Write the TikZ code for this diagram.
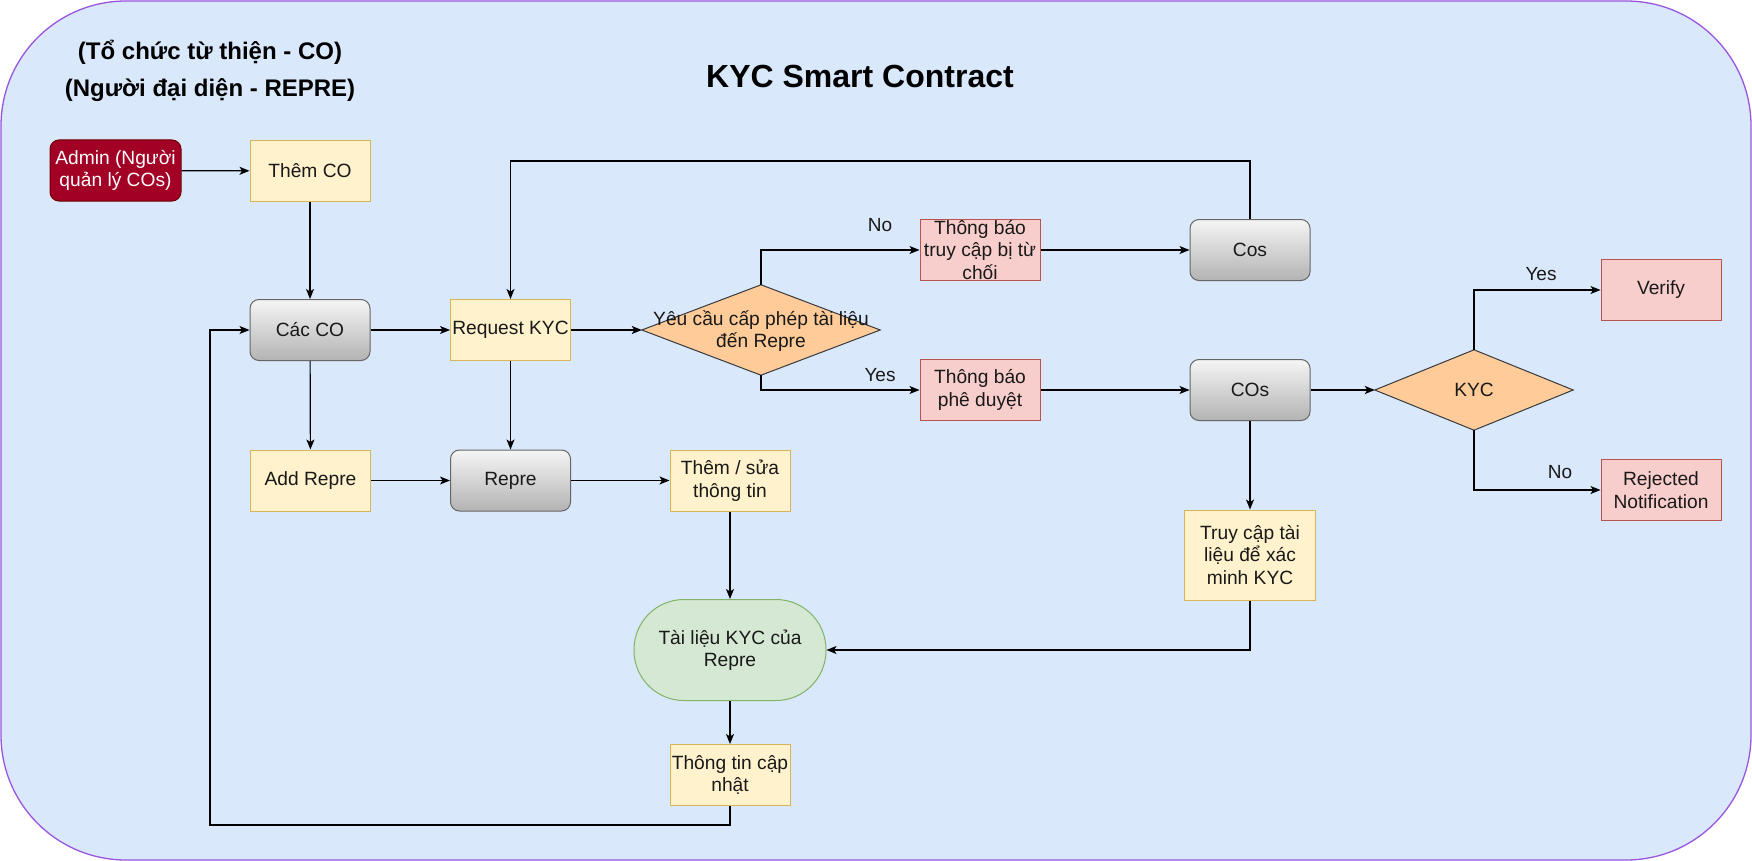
\documentclass[tikz,border=0pt]{standalone}
\usepackage{fontspec}
\setmainfont{Liberation Sans}
\usetikzlibrary{arrows.meta}
\definecolor{bgfill}{HTML}{DAE8FC}
\definecolor{bgdraw}{HTML}{9955DD}
\definecolor{yfill}{HTML}{FFF2CC}
\definecolor{ydraw}{HTML}{D6B656}
\definecolor{rfill}{HTML}{F8CECC}
\definecolor{rdraw}{HTML}{B85450}
\definecolor{afill}{HTML}{A20025}
\definecolor{adraw}{HTML}{6F0000}
\definecolor{gtop}{HTML}{F5F5F5}
\definecolor{gbot}{HTML}{B3B3B3}
\definecolor{gdraw}{HTML}{666666}
\definecolor{ofill}{HTML}{FFCC99}
\definecolor{odraw}{HTML}{36393D}
\definecolor{grfill}{HTML}{D5E8D4}
\definecolor{grdraw}{HTML}{82B366}
\tikzset{
  base/.style={line width=1pt, font=\fontsize{19.2}{22.5}\selectfont, align=center, inner sep=1pt, text=black!90, minimum width=120pt, minimum height=61pt},
  ybox/.style={base, draw=ydraw, fill=yfill},
  rbox/.style={base, draw=rdraw, fill=rfill},
  gbox/.style={base, draw=gdraw, top color=gtop, bottom color=gbot, rounded corners=9pt},
  abox/.style={base, draw=adraw, fill=afill, text=white, rounded corners=9pt, minimum width=131pt},
  dshape/.style={line width=1pt, draw=odraw, fill=ofill},
  dtext/.style={font=\fontsize{19.2}{22.5}\selectfont, align=center, text=black!90, inner sep=0pt},
  stad/.style={base, draw=grdraw, fill=grfill, rounded corners=50pt, minimum width=192pt, minimum height=101pt},
  arr/.style={line width=1.2pt, -{Stealth[length=10pt,width=8pt,inset=2.5pt]}},
  lbl/.style={font=\fontsize{19}{22}\selectfont, text=black!90, inner sep=0pt},
  ttl/.style={font=\bfseries\fontsize{32}{38}\selectfont, inner sep=0pt},
  sub/.style={font=\bfseries\fontsize{24}{29}\selectfont, inner sep=0pt}
}
\begin{document}
\begin{tikzpicture}[x=1pt,y=-1pt]
\useasboundingbox (0,0) rectangle (1752,861);
\draw[line width=1.3pt, draw=bgdraw, fill=bgfill, rounded corners=125pt] (1,1) rectangle (1751,860);

\node[sub] (s1) at (210,52) {(Tổ chức từ thiện - CO)};
\node[sub] (s2) at (210,90) {(Người đại diện - REPRE)};
\node[ttl] (title) at (860,76) {KYC Smart Contract};

\node[abox] (admin) at (115.5,170.5) {Admin (Người\\quản lý COs)};
\node[ybox] (them) at (310,171) {Thêm CO};
\node[gbox] (cacco) at (310,330) {Các CO};
\node[ybox] (req) at (510.5,330) {Request KYC};

\node[minimum width=238pt, minimum height=90pt, inner sep=0pt] (d1) at (761,330) {};
\draw[dshape] (d1.north) -- (d1.east) -- (d1.south) -- (d1.west) -- cycle;
\node[dtext] (d1t) at (761,331) {Yêu cầu cấp phép tài liệu\\đến Repre};

\node[rbox] (tbtc) at (980,250) {Thông báo\\truy cập bị từ\\chối};
\node[gbox] (cos) at (1250,250) {Cos};
\node[rbox] (tbpd) at (980,390) {Thông báo\\phê duyệt};
\node[gbox] (cos2) at (1250,390) {COs};

\node[minimum width=198pt, minimum height=80pt, inner sep=0pt] (d2) at (1474,390) {};
\draw[dshape] (d2.north) -- (d2.east) -- (d2.south) -- (d2.west) -- cycle;
\node[dtext] (d2t) at (1474,390) {KYC};

\node[rbox] (verify) at (1661,290) {Verify};
\node[rbox] (rej) at (1661,490) {Rejected\\Notification};

\node[ybox] (addrepre) at (310.5,480.5) {Add Repre};
\node[gbox] (repre) at (510.5,480.5) {Repre};
\node[ybox] (themsua) at (730,480.5) {Thêm / sửa\\thông tin};
\node[ybox, minimum width=131pt, minimum height=90pt] (truycap) at (1250,555) {Truy cập tài\\liệu để xác\\minh KYC};
\node[stad] (tailieu) at (730,650) {Tài liệu KYC của\\Repre};
\node[ybox] (ttcn) at (730,775) {Thông tin cập\\nhật};

\coordinate (topc) at (510.5,161);
\coordinate (botc) at (210,825);

\draw[arr] (admin) -- (them);
\draw[arr] (them) -- (cacco);
\draw[arr] (cacco) -- (req);
\draw[arr] (req) -- (d1.west);
\draw[arr] (d1.north) |- (tbtc.west);
\draw[arr] (d1.south) |- (tbpd.west);
\draw[arr] (tbtc) -- (cos);
\draw[arr] (tbpd) -- (cos2);
\draw[arr] (cos.north) |- (topc) -- (req.north);
\draw[arr] (cos2) -- (d2.west);
\draw[arr] (d2.north) |- (verify.west);
\draw[arr] (d2.south) |- (rej.west);
\draw[arr] (cos2) -- (truycap);
\draw[arr] (truycap.south) |- (tailieu.east);
\draw[arr] (cacco) -- (addrepre);
\draw[arr] (req) -- (repre);
\draw[arr] (addrepre) -- (repre);
\draw[arr] (repre) -- (themsua);
\draw[arr] (themsua) -- (tailieu);
\draw[arr] (tailieu) -- (ttcn);
\draw[arr] (ttcn.south) |- (botc) |- (cacco.west);

\node[lbl] (lno1) at (880,225) {No};
\node[lbl] (lyes1) at (880,375) {Yes};
\node[lbl] (lyes2) at (1541,274) {Yes};
\node[lbl] (lno2) at (1560,472) {No};
\end{tikzpicture}
\end{document}
